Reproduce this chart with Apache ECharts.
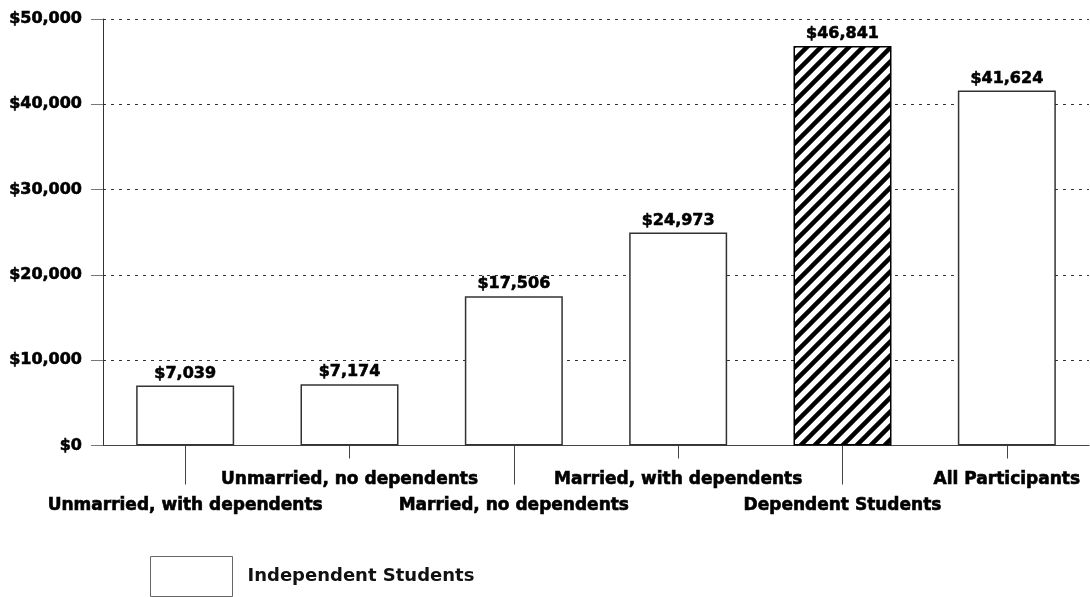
<!DOCTYPE html>
<html>
<head>
<meta charset="utf-8">
<script src="https://cdn.jsdelivr.net/npm/echarts@6/dist/echarts.min.js"></script>
<style>html,body{margin:0;padding:0;background:#fff;}#c{width:1090px;height:597px;}</style>
</head>
<body>
<div id="c"></div>
<script>
const categories = ['Unmarried, with dependents', 'Unmarried, no dependents', 'Married, no dependents', 'Married, with dependents', 'Dependent Students', 'All Participants'];
const values = [7039, 7174, 17506, 24973, 46841, 41624];
const hatchedIndex = 4;
const seriesName = 'Independent Students';
const yTicks = [0, 10000, 20000, 30000, 40000, 50000];

const FONT = '"DejaVu Sans", sans-serif';
function money(v) { return '$' + Number(v).toLocaleString('en-US'); }
const heavy = { fontFamily: FONT, fontWeight: 'bold', color: '#000', textBorderColor: '#000', textBorderWidth: 0.6 };

// diagonal hatch pattern
const tile = document.createElement('canvas');
tile.width = 14; tile.height = 14;
const ctx = tile.getContext('2d');
ctx.fillStyle = '#fff'; ctx.fillRect(0, 0, 14, 14);
ctx.strokeStyle = '#000'; ctx.lineWidth = 4.5;
ctx.beginPath();
ctx.moveTo(-7, 7); ctx.lineTo(7, -7);
ctx.moveTo(0, 14); ctx.lineTo(14, 0);
ctx.moveTo(7, 21); ctx.lineTo(21, 7);
ctx.stroke();

const chart = echarts.init(document.getElementById('c'), null, { renderer: 'canvas' });
const data = values.map((v, i) => i === hatchedIndex
  ? { value: v, itemStyle: { color: { image: tile, repeat: 'repeat' }, borderColor: '#000', borderWidth: 1.5 } }
  : v);

chart.setOption({
  animation: false,
  backgroundColor: '#fff',
  grid: { left: 103, right: 1, top: 19, bottom: 151.5, containLabel: false },
  legend: {
    left: 145, top: 551,
    data: [seriesName],
    icon: 'rect',
    itemWidth: 82, itemHeight: 40,
    textStyle: { fontFamily: FONT, fontWeight: 'bold', fontSize: 18, color: '#111', padding: [0, 0, 0, 10] },
    itemStyle: { color: '#fff', borderColor: '#666', borderWidth: 1 }
  },
  xAxis: [{
    type: 'category',
    data: categories,
    axisLine: { lineStyle: { color: '#444', width: 1 } },
    axisTick: { show: true, alignWithLabel: true, length: 13, lineStyle: { color: '#444' }, interval: 0 },
    axisLabel: Object.assign({
      interval: 0, margin: 21, fontSize: 17, lineHeight: 26,
      formatter: (v, i) => (i % 2 === 0 ? '\n' + v : v)
    }, heavy),
    splitLine: { show: false }
  }, {
    type: 'category',
    data: categories,
    position: 'bottom',
    axisLine: { show: false },
    axisTick: { show: true, alignWithLabel: true, length: 39, lineStyle: { color: '#444' }, interval: (i) => i % 2 === 0 },
    axisLabel: { show: false },
    splitLine: { show: false }
  }],
  yAxis: {
    type: 'value',
    min: yTicks[0], max: yTicks[yTicks.length - 1], interval: 10000,
    axisLine: { show: true, lineStyle: { color: '#333', width: 1 } },
    axisTick: { show: true, length: 12, lineStyle: { color: '#777' } },
    axisLabel: Object.assign({ margin: 21, fontSize: 16, formatter: money }, heavy),
    splitLine: { show: true, lineStyle: { color: '#333', type: [3, 5], width: 1 } }
  },
  series: [{
    name: seriesName,
    type: 'bar',
    xAxisIndex: 0,
    barWidth: 98,
    data: data,
    itemStyle: { color: '#fff', borderColor: '#333', borderWidth: 1.5 },
    label: Object.assign({ show: true, position: 'top', distance: 4, fontSize: 16, formatter: (p) => money(p.value) }, heavy)
  }]
});
</script>
</body>
</html>
